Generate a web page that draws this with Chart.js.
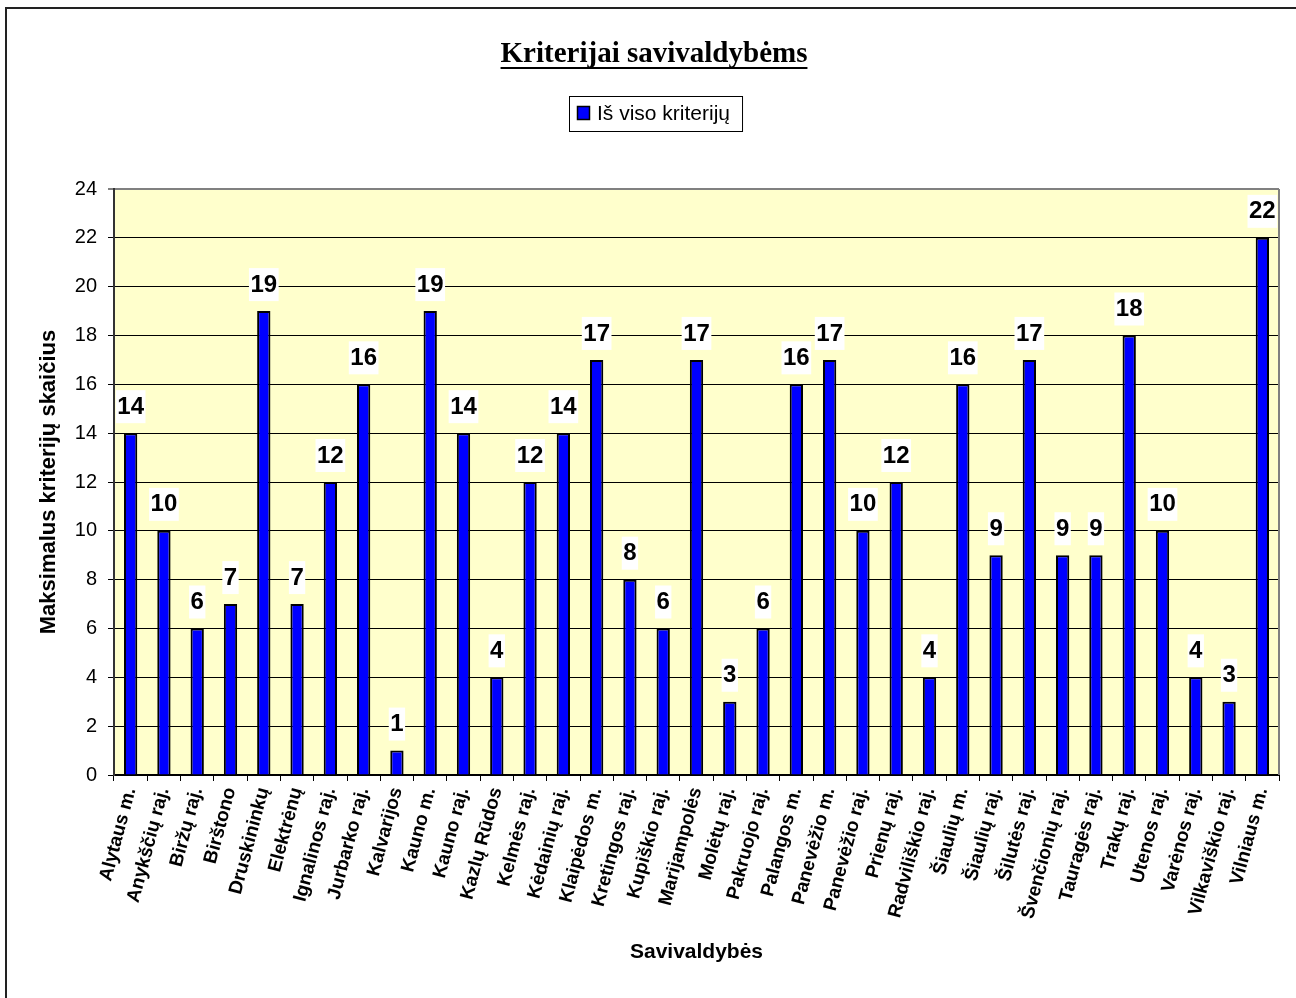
<!DOCTYPE html>
<html>
<head>
<meta charset="utf-8">
<script src="https://cdn.jsdelivr.net/npm/chart.js@4"></script>
<style>
  html, body { margin: 0; padding: 0; background: #fff; }
  #wrap { position: relative; width: 1296px; height: 998px; }
</style>
</head>
<body>
<div id="wrap"><canvas id="chart" width="1296" height="998"></canvas></div>
<script>
const chartTitle = 'Kriterijai savivaldybėms';
const seriesName = 'Iš viso kriterijų';
const xTitle = 'Savivaldybės';
const yTitle = 'Maksimalus kriterijų skaičius';

const municipalities = [
    'Alytaus m.', 'Anykščių raj.', 'Biržų raj.', 'Birštono', 'Druskininkų',
    'Elektrėnų', 'Ignalinos raj.', 'Jurbarko raj.', 'Kalvarijos', 'Kauno m.',
    'Kauno raj.', 'Kazlų Rūdos', 'Kelmės raj.', 'Kėdainių raj.', 'Klaipėdos m.',
    'Kretingos raj.', 'Kupiškio raj.', 'Marijampolės', 'Molėtų raj.', 'Pakruojo raj.',
    'Palangos m.', 'Panevėžio m.', 'Panevėžio raj.', 'Prienų raj.', 'Radviliškio raj.',
    'Šiaulių m.', 'Šiaulių raj.', 'Šilutės raj.', 'Švenčionių raj.', 'Tauragės raj.',
    'Trakų raj.', 'Utenos raj.', 'Varėnos raj.', 'Vilkaviškio raj.', 'Vilniaus m.'
];
const criteriaCount = [
    14, 10, 6, 7, 19,
    7, 12, 16, 1, 19,
    14, 4, 12, 14, 17,
    8, 6, 17, 3, 6,
    16, 17, 10, 12, 4,
    16, 9, 17, 9, 9,
    18, 10, 4, 3, 22
];
const yTicks = [0, 2, 4, 6, 8, 10, 12, 14, 16, 18, 20, 22, 24];

// fonas, remelis, pavadinimas ir legenda
const decorPlugin = {
    id: 'decor',
    beforeDraw(chart) {
        const ctx = chart.ctx;
        const a = chart.chartArea;
        ctx.save();
        ctx.fillStyle = '#fff';
        ctx.fillRect(0, 0, chart.width, chart.height);
        // page frame (only top and left visible)
        ctx.strokeStyle = '#222';
        ctx.lineWidth = 2;
        ctx.beginPath();
        ctx.moveTo(6, chart.height + 5);
        ctx.lineTo(6, 8);
        ctx.lineTo(chart.width + 5, 8);
        ctx.stroke();
        // plot background
        ctx.fillStyle = '#FFFFCC';
        ctx.fillRect(a.left, a.top, a.right - a.left, a.bottom - a.top);
        ctx.restore();
    },
    afterDraw(chart) {
        const ctx = chart.ctx;
        const a = chart.chartArea;
        ctx.save();
        // right border of the plot
        ctx.strokeStyle = '#808080';
        ctx.lineWidth = 2;
        ctx.beginPath();
        ctx.moveTo(a.right, a.top);
        ctx.lineTo(a.right, a.bottom);
        ctx.stroke();

        // title, underlined
        ctx.font = 'bold 29px "Liberation Serif", "Times New Roman", serif';
        ctx.fillStyle = '#000';
        ctx.textAlign = 'center';
        ctx.textBaseline = 'alphabetic';
        const cx = 654;
        ctx.fillText(chartTitle, cx, 62);
        const tw = ctx.measureText(chartTitle).width;
        ctx.fillRect(cx - tw / 2, 67, tw, 2);

        // legend
        ctx.font = '21px "Liberation Sans", Arial, sans-serif';
        const label = chart.data.datasets[0].label;
        const lw = ctx.measureText(label).width;
        const boxL = 569, boxT = 96, boxH = 35;
        const boxW = lw + 40;
        ctx.fillStyle = '#fff';
        ctx.fillRect(boxL, boxT, boxW, boxH);
        ctx.strokeStyle = '#000';
        ctx.lineWidth = 1;
        ctx.strokeRect(boxL + 0.5, boxT + 0.5, boxW, boxH);
        ctx.fillStyle = '#0000FF';
        ctx.fillRect(577, 106, 13, 14);
        ctx.lineWidth = 1.5;
        ctx.strokeRect(577.5, 106.5, 12, 13);
        ctx.fillStyle = '#000';
        ctx.textAlign = 'left';
        ctx.textBaseline = 'middle';
        ctx.fillText(label, 597, 114);
        ctx.restore();
    },
    afterDatasetsDraw(chart) {
        const ctx = chart.ctx;
        const meta = chart.getDatasetMeta(0);
        const data = chart.data.datasets[0].data;
        ctx.save();
        ctx.font = 'bold 24px "Liberation Sans", Arial, sans-serif';
        ctx.textAlign = 'center';
        ctx.textBaseline = 'middle';
        meta.data.forEach((bar, i) => {
            const txt = String(data[i]);
            const w = ctx.measureText(txt).width + 3;
            const cy = bar.y - 27;
            ctx.fillStyle = '#fff';
            ctx.fillRect(bar.x - w / 2, cy - 16, w, 33);
            ctx.fillStyle = '#000';
            ctx.fillText(txt, bar.x, cy + 1);
        });
        ctx.restore();
    }
};

const ctx = document.getElementById('chart').getContext('2d');
new Chart(ctx, {
    type: 'bar',
    data: {
        labels: municipalities,
        datasets: [{
            label: seriesName,
            data: criteriaCount,
            backgroundColor: '#0000FF',
            borderColor: '#000',
            borderWidth: 2,
            categoryPercentage: 1,
            barPercentage: 0.4
        }]
    },
    options: {
        responsive: false,
        animation: false,
        layout: { padding: { top: 189, right: 17, bottom: 0, left: 0 } },
        plugins: {
            legend: { display: false },
            title: { display: false },
            tooltip: { enabled: false }
        },
        scales: {
            x: {
                afterFit(scale) { scale.height = 223; },
                grid: { drawOnChartArea: false, drawTicks: true, tickLength: 6, color: '#000' },
                border: { color: '#000', width: 2 },
                ticks: {
                    autoSkip: false, maxRotation: 75, minRotation: 75,
                    color: '#000', padding: 4,
                    font: { family: '"Liberation Sans", Arial, sans-serif', size: 19, weight: 'bold' }
                },
                title: {
                    display: true, text: xTitle, color: '#000',
                    padding: { top: 0, bottom: 33 },
                    font: { family: '"Liberation Sans", Arial, sans-serif', size: 21, weight: 'bold' }
                }
            },
            y: {
                min: 0, max: 24,
                afterFit(scale) { scale.width = 114; },
                afterBuildTicks(scale) { scale.ticks = yTicks.map(v => ({ value: v })); },
                grid: {
                    tickLength: 6,
                    color: c => (c.tick && c.tick.value === 24 ? '#808080' : '#000'),
                    lineWidth: c => (c.tick && c.tick.value === 24 ? 2 : 1)
                },
                border: { color: '#333', width: 2 },
                ticks: {
                    color: '#000', padding: 11,
                    font: { family: '"Liberation Sans", Arial, sans-serif', size: 20 }
                },
                title: {
                    display: true, text: yTitle, color: '#000',
                    padding: { top: 36, bottom: 0 },
                    font: { family: '"Liberation Sans", Arial, sans-serif', size: 22, weight: 'bold' }
                }
            }
        }
    },
    plugins: [decorPlugin]
});
</script>
</body>
</html>
